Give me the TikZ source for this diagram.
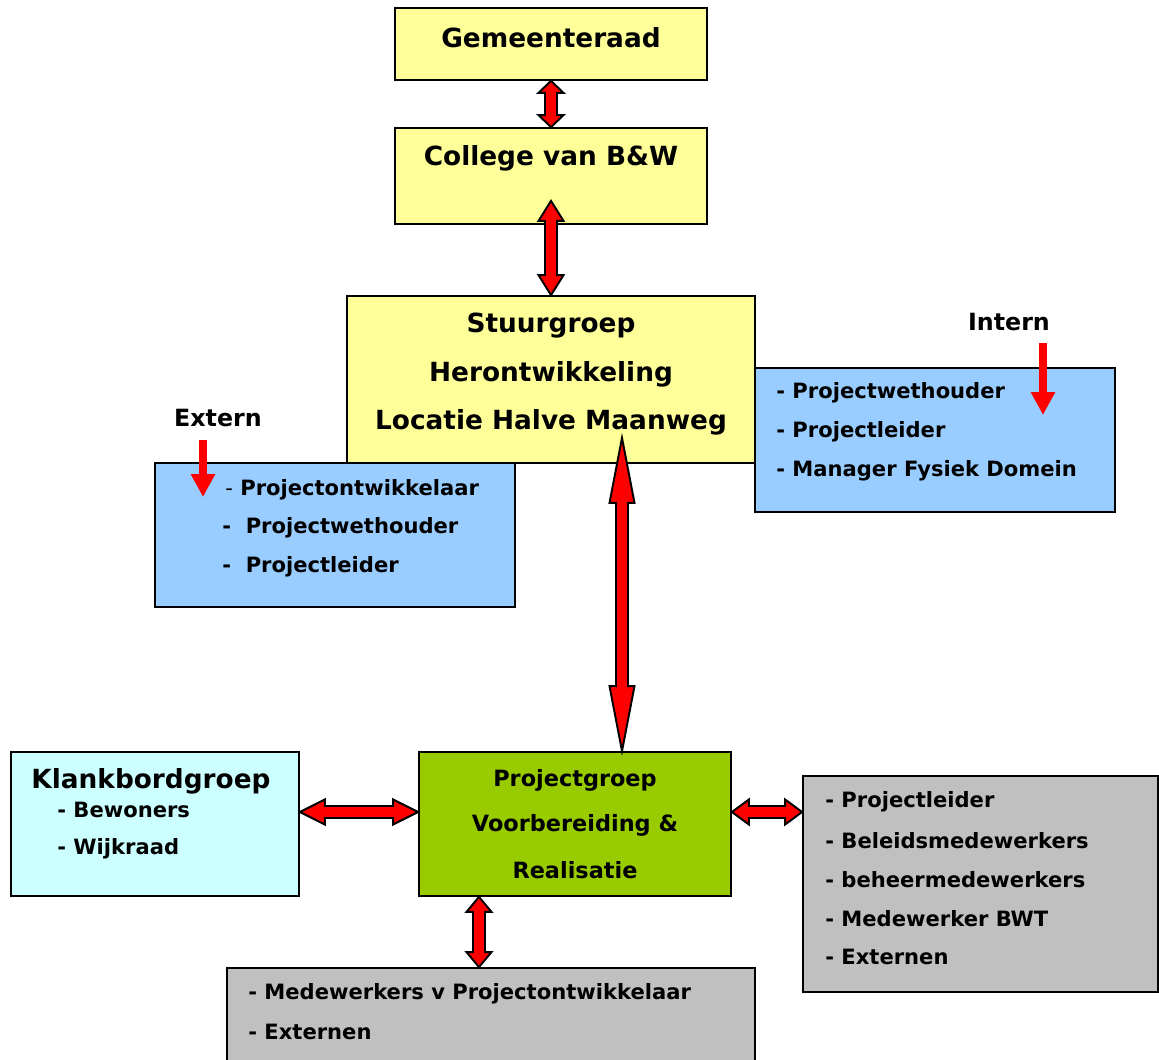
\documentclass[tikz,border=0pt]{standalone}
\usepackage{fontspec}
\setmainfont{DejaVu Sans}
\usetikzlibrary{calc,fit,arrows.meta}

\definecolor{geel}{HTML}{FFFF99}
\definecolor{blauw}{HTML}{99CCFF}
\definecolor{cyaan}{HTML}{CCFFFF}
\definecolor{groen}{HTML}{99CC00}
\definecolor{grijs}{HTML}{C0C0C0}
\definecolor{rood}{HTML}{FF0000}

\tikzset{
  box/.style={draw=black, line width=1pt, inner sep=0pt},
  titel/.style={font=\bfseries\fontsize{15}{18}\selectfont},
  label/.style={font=\bfseries\fontsize{13.5}{16}\selectfont},
  groot/.style={font=\bfseries\fontsize{15}{18}\selectfont},
  middel/.style={font=\bfseries\fontsize{12.75}{15}\selectfont},
  lijst/.style={font=\bfseries\fontsize{12}{14}\selectfont, anchor=west, inner sep=0pt},
  fatarrow/.style={draw=black, fill=rood, line width=1.1pt, line join=miter},
  pijl/.style={draw=rood, line width=0.15cm, -{Triangle[length=0.46cm,width=0.46cm]}},
}

% dikke dubbele pijl: van, naar, lengte kop (px)
\newcommand{\fatarrow}[3]{%
  \draw[fatarrow] let \p1=($(#2)-(#1)$), \n1={veclen(\x1,\y1)}, \n2={atan2(\y1,\x1)} in
    [shift={(#1)}, rotate=\n2]
    (0pt,0pt) -- ({#3*0.02cm},0.25cm) -- ({#3*0.02cm},0.12cm)
    -- ({\n1-#3*0.02cm},0.12cm) -- ({\n1-#3*0.02cm},0.25cm) -- (\n1,0pt)
    -- ({\n1-#3*0.02cm},-0.25cm) -- ({\n1-#3*0.02cm},-0.12cm)
    -- ({#3*0.02cm},-0.12cm) -- ({#3*0.02cm},-0.25cm) -- cycle;
}

\begin{document}
\begin{tikzpicture}[x=0.02cm, y=-0.02cm]
  \useasboundingbox[fill=white] (0,0) rectangle (1159,1060);

  % bestuur
  \node[box, fill=geel, fit={(395,8) (707,80)}] (raad) {};
  \node[titel] (raadtxt) at (551,38) {Gemeenteraad};
  \node[box, fill=geel, fit={(395,128) (707,224)}] (college) {};
  \node[titel] (collegetxt) at (551,158) {College van B\&W};

  \node[box, fill=geel, fit={(347,296) (755,463)}] (stuur) {};
  \node[titel] (stuur1) at (551,326) {Stuurgroep};
  \node[titel] (stuur2) at (551,374) {Herontwikkeling};
  \node[titel] (stuur3) at (551,422) {Locatie Halve Maanweg};

  % extern / intern
  \node[box, fill=blauw, fit={(155,463) (515,607)}] (extern) {};
  \node[lijst] (ex1) at (225,490) {{\mdseries -}~Projectontwikkelaar};
  \node[lijst] (ex2) at (222,528) {-~~Projectwethouder};
  \node[lijst] (ex3) at (222,567) {-~~Projectleider};
  \node[label] (externtxt) at (218,418) {Extern};

  \node[box, fill=blauw, fit={(755,368) (1115,512)}] (intern) {};
  \foreach \t [count=\i] in {Projectwethouder, Projectleider, Manager Fysiek Domein}
    \node[lijst] (in\i) at (776,{393+39*(\i-1)}) {- \t};
  \node[label] (interntxt) at (1009,322) {Intern};

  % projectniveau
  \node[box, fill=cyaan, fit={(11,752) (299,896)}] (klank) {};
  \node[groot] (klanktxt) at (151,781) {Klankbordgroep};
  \node[lijst] (kl1) at (57,810) {- Bewoners};
  \node[lijst] (kl2) at (57,849) {- Wijkraad};

  \node[box, fill=groen, fit={(419,752) (731,896)}] (pgroep) {};
  \node[middel] (pg1) at (575,780) {Projectgroep};
  \node[middel] (pg2) at (575,825) {Voorbereiding \&};
  \node[middel] (pg3) at (575,870) {Realisatie};

  \node[box, fill=grijs, fit={(803,776) (1158,992)}] (rechts) {};
  \foreach \t [count=\i] in {Projectleider, Beleidsmedewerkers, beheermedewerkers, Medewerker BWT, Externen}
    \node[lijst] (re\i) at (825,{802+38.8*(\i-1)}) {- \t};

  \node[box, fill=grijs, fit={(227,968) (755,1065)}] (onder) {};
  \node[lijst] (on1) at (248,994) {- Medewerkers v Projectontwikkelaar};
  \node[lijst] (on2) at (248,1032) {- Externen};

  % pijlen
  \coordinate (c1) at ($(college.south)+(0,-24)$);
  \coordinate (s1) at ($(stuur.south)+(71,-26)$);
  \coordinate (p1) at ($(pgroep.north)+(47,0)$);
  \coordinate (k1) at ($(klank.east)+(0,-12)$);
  \coordinate (k2) at ($(pgroep.west)+(0,-12)$);
  \coordinate (r1) at ($(pgroep.east)+(0,-12)$);
  \coordinate (r2) at (r1 -| rechts.west);
  \coordinate (b1) at ($(pgroep.south)+(-96,0)$);
  \coordinate (b2) at (b1 |- onder.north);

  \fatarrow{raad.south}{college.north}{12}
  \fatarrow{c1}{stuur.north}{20}
  \fatarrow{s1}{p1}{65}
  \fatarrow{k1}{k2}{25}
  \fatarrow{r1}{r2}{17}
  \fatarrow{b1}{b2}{15}

  \coordinate (e1) at (203,440);
  \coordinate (e2) at (203,497);
  \draw[pijl] (e1) -- (e2);
  \coordinate (i1) at (1043,343);
  \coordinate (i2) at (1043,415);
  \draw[pijl] (i1) -- (i2);
\end{tikzpicture}
\end{document}
